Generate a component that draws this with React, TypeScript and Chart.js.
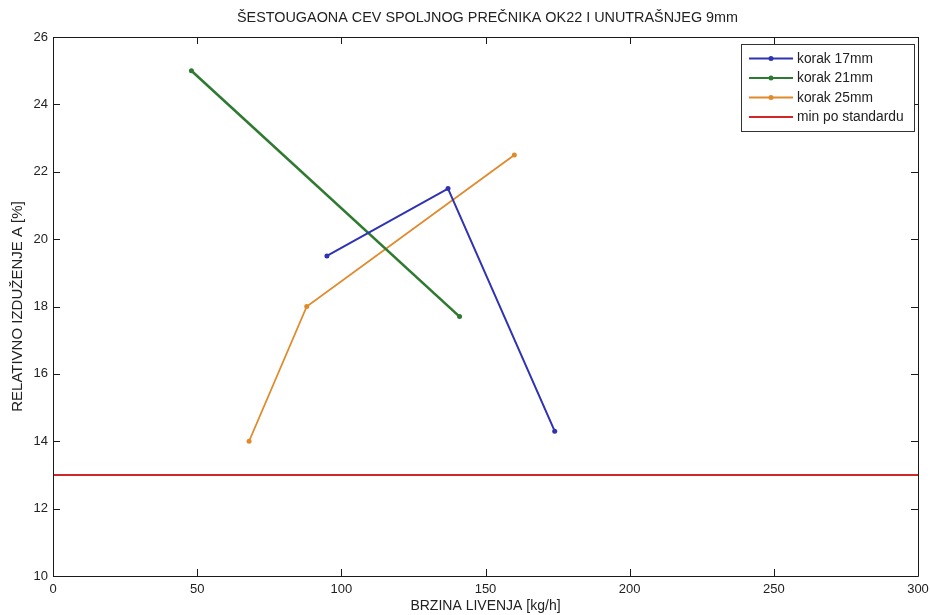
import React, { useEffect, useRef } from "react";
import { Chart, registerables } from "chart.js";
Chart.register(...registerables);

const TITLE = "ŠESTOUGAONA CEV SPOLJNOG PREČNIKA OK22 I UNUTRAŠNJEG 9mm";
const X_TITLE = "BRZINA LIVENJA [kg/h]";
const Y_TITLE = "RELATIVNO IZDUŽENJE A [%]";
const X_MIN = 0;
const X_MAX = 300;
const X_STEP = 50;
const Y_MIN = 10;
const Y_MAX = 26;
const Y_STEP = 2;

const SERIES_LABELS = ["korak 17mm", "korak 21mm", "korak 25mm", "min po standardu"];
const SERIES_COLORS = ["#2f33b3", "#2e7a30", "#e08a2c", "#d02828"];

const korak17X = [95, 137, 174];
const korak17Y = [19.5, 21.5, 14.3];
const korak21X = [48, 141];
const korak21Y = [25, 17.7];
const korak25X = [68, 88, 160];
const korak25Y = [14, 18, 22.5];
const minStdX = [0, 300];
const minStdY = [13, 13];

const FONT = "'Liberation Sans', Arial, sans-serif";

const zip = (xs: number[], ys: number[]) => xs.map((x, i) => ({ x, y: ys[i] }));

const frameAndLegend = {
  id: "frameAndLegend",
  afterDraw(chart: any) {
    const { ctx, chartArea: a, scales } = chart;
    const xs = scales.x;
    const ys = scales.y;
    ctx.save();
    // frame
    ctx.strokeStyle = "#1a1a1a";
    ctx.lineWidth = 1;
    ctx.beginPath();
    ctx.rect(Math.round(a.left) + 0.5, Math.round(a.top) + 0.5, Math.round(a.right - a.left), Math.round(a.bottom - a.top));
    ctx.stroke();
    // inward ticks
    const tl = 7;
    ctx.beginPath();
    for (let v = X_MIN; v <= X_MAX; v += X_STEP) {
      const px = Math.round(xs.getPixelForValue(v)) + 0.5;
      ctx.moveTo(px, a.bottom);
      ctx.lineTo(px, a.bottom - tl);
      ctx.moveTo(px, a.top);
      ctx.lineTo(px, a.top + tl);
    }
    for (let v = Y_MIN; v <= Y_MAX; v += Y_STEP) {
      const py = Math.round(ys.getPixelForValue(v)) + 0.5;
      ctx.moveTo(a.left, py);
      ctx.lineTo(a.left + tl, py);
      ctx.moveTo(a.right, py);
      ctx.lineTo(a.right - tl, py);
    }
    ctx.stroke();

    // title
    ctx.fillStyle = "#222";
    ctx.font = `14.4px ${FONT}`;
    ctx.textAlign = "center";
    ctx.textBaseline = "middle";
    ctx.fillText(TITLE, 487.5, 18);

    // legend
    const lx = 741.5, ly = 44.5, lw = 173, lh = 87;
    ctx.fillStyle = "#fff";
    ctx.fillRect(lx, ly, lw, lh);
    ctx.strokeStyle = "#333";
    ctx.lineWidth = 1;
    ctx.strokeRect(lx, ly, lw, lh);
    ctx.font = `13.8px ${FONT}`;
    ctx.textAlign = "left";
    chart.data.datasets.forEach((ds: any, i: number) => {
      const y = 58.5 + i * 19.5;
      ctx.strokeStyle = ds.borderColor;
      ctx.lineWidth = 2;
      ctx.beginPath();
      ctx.moveTo(749, y);
      ctx.lineTo(793, y);
      ctx.stroke();
      if (ds.pointRadius > 0) {
        ctx.fillStyle = ds.borderColor;
        ctx.beginPath();
        ctx.arc(771, y, 2.5, 0, Math.PI * 2);
        ctx.fill();
      }
      ctx.fillStyle = "#222";
      ctx.fillText(ds.label, 797, y + 0.5);
    });
    ctx.restore();
  },
};

export default function App() {
  const ref = useRef<HTMLCanvasElement>(null);
  useEffect(() => {
    if (!ref.current) return;
    const datasets = [
      { xs: korak17X, ys: korak17Y, w: 2, r: 2.5 },
      { xs: korak21X, ys: korak21Y, w: 2.6, r: 2.5 },
      { xs: korak25X, ys: korak25Y, w: 1.8, r: 2.5 },
      { xs: minStdX, ys: minStdY, w: 2, r: 0 },
    ].map((d, i) => ({
      label: SERIES_LABELS[i],
      data: zip(d.xs, d.ys),
      borderColor: SERIES_COLORS[i],
      backgroundColor: SERIES_COLORS[i],
      borderWidth: d.w,
      pointRadius: d.r,
      pointBorderWidth: 0,
      showLine: true,
      tension: 0,
    }));
    const chart = new Chart(ref.current, {
      type: "scatter",
      data: { datasets },
      options: {
        responsive: false,
        animation: false,
        events: [],
        layout: { padding: { top: 37, right: 12, bottom: 0, left: 0 } },
        plugins: { legend: { display: false }, title: { display: false }, tooltip: { enabled: false } },
        scales: {
          x: {
            type: "linear",
            min: X_MIN,
            max: X_MAX,
            afterFit: (s: any) => { s.height = 39; s.paddingLeft = 0; s.paddingRight = 0; },
            ticks: { stepSize: X_STEP, padding: 6, color: "#222", font: { family: FONT, size: 13 }, maxRotation: 0 },
            grid: { drawOnChartArea: false, drawTicks: false },
            border: { display: false },
            title: { display: true, text: X_TITLE, color: "#222", font: { family: FONT, size: 14 }, padding: { top: 0, bottom: 0 } },
          },
          y: {
            type: "linear",
            min: Y_MIN,
            max: Y_MAX,
            afterFit: (s: any) => { s.width = 53; s.paddingTop = 0; s.paddingBottom = 0; },
            ticks: { stepSize: Y_STEP, padding: 5, color: "#222", font: { family: FONT, size: 13 } },
            grid: { drawOnChartArea: false, drawTicks: false },
            border: { display: false },
            title: { display: true, text: Y_TITLE, color: "#222", font: { family: FONT, size: 15 }, padding: { top: 9, bottom: 0 } },
          },
        },
      },
      plugins: [frameAndLegend],
    } as any);
    return () => chart.destroy();
  }, []);
  return (
    <div style={{ position: "absolute", left: 0, top: 0, width: 930, height: 615, background: "#fff" }}>
      <canvas ref={ref} width={930} height={615} style={{ width: 930, height: 615, display: "block" }} />
    </div>
  );
}
